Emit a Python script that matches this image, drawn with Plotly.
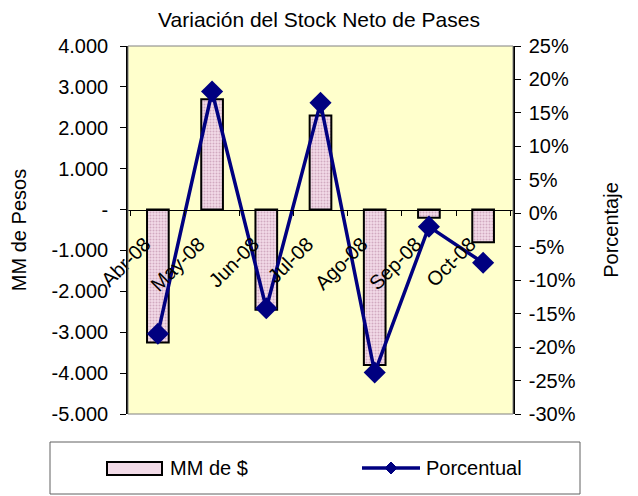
import plotly.graph_objects as go

months = ["Abr-08", "May-08", "Jun-08", "Jul-08", "Ago-08", "Sep-08", "Oct-08"]
mm_pesos = [-3250, 2700, -2450, 2300, -3800, -200, -800]
porcentual = [-18.0, 18.2, -14.2, 16.5, -23.8, -2.0, -7.4]

left_vals = [4000, 3000, 2000, 1000, 0, -1000, -2000, -3000, -4000, -5000]
left_text = ["4.000", "3.000", "2.000", "1.000", "-", "-1.000", "-2.000", "-3.000", "-4.000", "-5.000"]
right_vals = [25, 20, 15, 10, 5, 0, -5, -10, -15, -20, -25, -30]
right_text = [f"{v}%" for v in right_vals]

font = "Liberation Sans, Arial, sans-serif"
FS = 20
W, H = 638, 496
L, R, T, B = 128, 513, 46, 414
navy = "#000080"
barfill = "#f2dbe8"


def px(x):
    return (x - L) / (R - L)


def py(y):
    return (B - y) / (B - T)


fig = go.Figure()
fig.add_trace(go.Bar(
    x=months, y=mm_pesos, name="MM de $", width=0.4,
    marker=dict(color=barfill, line=dict(color="black", width=2),
                pattern=dict(shape=".", fgcolor="#b07a98", size=3, solidity=0.35)),
    yaxis="y"))
fig.add_trace(go.Scatter(
    x=months, y=porcentual, name="Porcentual", mode="lines+markers",
    line=dict(color=navy, width=3.5),
    marker=dict(symbol="diamond", size=17, color=navy),
    yaxis="y2"))

zero_pos = 5000 / 9000

# legend drawn manually (box, swatches, labels)
lg_y = 468
shapes = [
    dict(type="rect", xref="paper", yref="paper", x0=0, x1=1, y0=0, y1=1,
         line=dict(color="#808080", width=1), layer="above"),
    dict(type="rect", xref="paper", yref="paper",
         x0=px(50), x1=px(580), y0=py(494), y1=py(442),
         line=dict(color="#606060", width=1)),
    dict(type="rect", xref="paper", yref="paper",
         x0=px(107), x1=px(162), y0=py(475), y1=py(462),
         fillcolor=barfill, line=dict(color="black", width=2)),
    dict(type="line", xref="paper", yref="paper",
         x0=px(362), x1=px(420), y0=py(lg_y), y1=py(lg_y),
         line=dict(color=navy, width=3.5)),
    dict(type="path", xref="paper", yref="paper",
         path=(f"M {px(391)} {py(lg_y - 6)} L {px(397)} {py(lg_y)} "
               f"L {px(391)} {py(lg_y + 6)} L {px(385)} {py(lg_y)} Z"),
         fillcolor=navy, line=dict(color=navy, width=1)),
]
annotations = [
    dict(text="MM de $", xref="paper", yref="paper", x=px(168), y=py(lg_y),
         xanchor="left", yanchor="middle", showarrow=False, font=dict(size=FS)),
    dict(text="Porcentual", xref="paper", yref="paper", x=px(424), y=py(lg_y),
         xanchor="left", yanchor="middle", showarrow=False, font=dict(size=FS)),
]

fig.update_layout(
    width=W, height=H,
    margin=dict(l=L, r=W - R, t=T, b=H - B, autoexpand=False),
    paper_bgcolor="white", plot_bgcolor="#FFFFCC",
    font=dict(family=font, size=FS, color="black"),
    title=dict(text="Variación del Stock Neto de Pases", x=0.5, xanchor="center",
               y=1 - 20 / H, yanchor="middle", font=dict(size=21)),
    showlegend=False,
    xaxis=dict(type="category", anchor="free", position=zero_pos,
               showline=True, linecolor="black", linewidth=1,
               ticks="outside", ticklen=5, tickcolor="black", tickson="boundaries",
               tickangle=-45, tickfont=dict(size=FS), showgrid=False,
               ticklabelshift=-13, ticklabelstandoff=14, automargin=False),
    yaxis=dict(range=[-5000, 4000], tickvals=left_vals, ticktext=left_text,
               showline=True, linecolor="black", linewidth=1.5,
               ticks="outside", ticklen=6, tickcolor="black",
               showgrid=False, zeroline=False, ticklabelstandoff=8,
               title=dict(text="MM de Pesos", font=dict(size=FS), standoff=20),
               tickfont=dict(size=FS), automargin=False),
    yaxis2=dict(range=[-30, 25], tickvals=right_vals, ticktext=right_text,
                overlaying="y", side="right", anchor="x",
                showline=True, linecolor="black", linewidth=1.5,
                ticks="outside", ticklen=6, tickcolor="black",
                showgrid=False, zeroline=False, ticklabelstandoff=4,
                title=dict(text="Porcentaje", font=dict(size=FS), standoff=29),
                tickfont=dict(size=FS), automargin=False),
    shapes=shapes,
    annotations=annotations,
)

fig.write_html("out.html", config={"displayModeBar": False},
               post_script="document.body.style.margin='0';document.body.style.padding='0';")
